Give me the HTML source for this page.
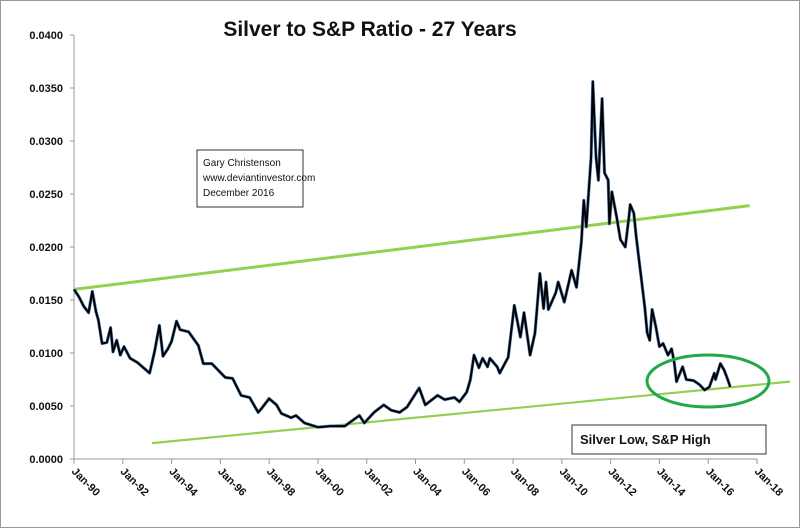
<!DOCTYPE html>
<html><head><meta charset="utf-8"><style>
html,body{margin:0;padding:0;background:#fff}
svg{display:block;font-family:"Liberation Sans",sans-serif}
</style></head><body>
<svg width="800" height="528" viewBox="0 0 800 528" id="c">
<rect x="0.5" y="0.5" width="799" height="527" fill="#fff" stroke="#999"/>
<text x="370" y="36" text-anchor="middle" font-size="21" font-weight="bold" fill="#111">Silver to S&amp;P Ratio - 27 Years</text>
<g id="axes"></g>
<g id="marks"></g>
<rect x="197" y="150" width="106" height="57" fill="#fff" stroke="#333"/>
<text font-size="10" fill="#111"><tspan x="203" y="166">Gary Christenson</tspan><tspan x="203" y="181">www.deviantinvestor.com</tspan><tspan x="203" y="196">December 2016</tspan></text>
<rect x="572" y="425" width="194" height="29" fill="#fff" stroke="#333"/>
<text x="580" y="444" font-size="13" font-weight="bold" fill="#111">Silver Low, S&amp;P High</text>
</svg>
<script>
const years=[1990.0,1990.2,1990.4,1990.6,1990.75,1990.9,1991.0,1991.15,1991.35,1991.5,1991.6,1991.75,1991.9,1992.05,1992.3,1992.6,1993.1,1993.3,1993.5,1993.65,1993.85,1994.0,1994.2,1994.35,1994.7,1995.1,1995.3,1995.65,1996.2,1996.5,1996.85,1997.2,1997.55,1997.7,1998.0,1998.3,1998.5,1998.9,1999.1,1999.45,2000.0,2000.5,2001.1,2001.7,2001.9,2002.3,2002.7,2003.0,2003.35,2003.65,2004.15,2004.4,2004.9,2005.2,2005.6,2005.8,2006.1,2006.25,2006.4,2006.6,2006.75,2006.95,2007.05,2007.35,2007.45,2007.8,2008.05,2008.3,2008.45,2008.7,2008.9,2009.1,2009.25,2009.35,2009.45,2009.75,2009.85,2010.1,2010.4,2010.6,2010.8,2010.9,2011.0,2011.2,2011.27,2011.4,2011.5,2011.65,2011.75,2011.9,2011.95,2012.05,2012.25,2012.4,2012.6,2012.75,2012.8,2012.95,2013.05,2013.2,2013.4,2013.5,2013.6,2013.7,2013.85,2014.0,2014.15,2014.35,2014.5,2014.6,2014.7,2014.95,2015.1,2015.4,2015.65,2015.85,2016.05,2016.25,2016.3,2016.5,2016.65,2016.8,2016.9];
const ratio=[0.0160,0.0153,0.0144,0.0138,0.0158,0.0139,0.0131,0.0109,0.0110,0.0124,0.0101,0.0112,0.0098,0.0106,0.0095,0.0091,0.0081,0.0101,0.0126,0.0097,0.0104,0.0111,0.0130,0.0122,0.0120,0.0107,0.0090,0.0090,0.0077,0.0076,0.0060,0.0058,0.0044,0.0048,0.0057,0.0051,0.0043,0.0039,0.0041,0.0034,0.0030,0.0031,0.0031,0.0041,0.0034,0.0044,0.0051,0.0046,0.0044,0.0049,0.0067,0.0051,0.0060,0.0056,0.0058,0.0054,0.0063,0.0075,0.0098,0.0086,0.0095,0.0087,0.0095,0.0087,0.0081,0.0096,0.0145,0.0115,0.0138,0.0098,0.0119,0.0175,0.0142,0.0167,0.0141,0.0157,0.0167,0.0148,0.0178,0.0162,0.0205,0.0244,0.0219,0.0285,0.0356,0.0285,0.0263,0.0340,0.0270,0.0263,0.0222,0.0252,0.0228,0.0207,0.0200,0.0228,0.0240,0.0232,0.0209,0.0181,0.0143,0.0119,0.0112,0.0141,0.0125,0.0106,0.0109,0.0098,0.0104,0.0092,0.0073,0.0087,0.0075,0.0074,0.0070,0.0065,0.0068,0.0081,0.0075,0.0090,0.0084,0.0075,0.0068];
const yTicks=[0,0.005,0.01,0.015,0.02,0.025,0.03,0.035,0.04];
const yTickLabels=["0.0000","0.0050","0.0100","0.0150","0.0200","0.0250","0.0300","0.0350","0.0400"];
const xTicks=[1990,1992,1994,1996,1998,2000,2002,2004,2006,2008,2010,2012,2014,2016,2018];
const xTickLabels=["Jan-90","Jan-92","Jan-94","Jan-96","Jan-98","Jan-00","Jan-02","Jan-04","Jan-06","Jan-08","Jan-10","Jan-12","Jan-14","Jan-16","Jan-18"];
const upperTrend=[[1990,0.0160],[2017.7,0.0239]];
const lowerTrend=[[1993.2,0.0015],[2019.35,0.0073]];
const X0=74,X1=757,Y0=459,Y1=35;
const xs=v=>X0+(v-1990)/28*(X1-X0);
const ys=v=>Y0-v/0.04*(Y0-Y1);
const NS="http://www.w3.org/2000/svg";
function mk(t,a,p){const e=document.createElementNS(NS,t);for(const k in a)e.setAttribute(k,a[k]);p.appendChild(e);return e;}
const ax=document.getElementById('axes'),mg=document.getElementById('marks');
let e=mk('line',{x1:X0,y1:Y1,x2:X0,y2:Y0,stroke:'#999'},ax);

e=mk('line',{x1:X0,y1:Y0,x2:X1,y2:Y0,stroke:'#999'},ax);

yTicks.forEach((v,i)=>{
 const t=mk('line',{x1:X0-4,x2:X0,y1:ys(v),y2:ys(v),stroke:'#999'},ax);
 
 const l=mk('text',{x:63,y:ys(v)+4,'text-anchor':'end','font-size':'11','font-weight':'bold',fill:'#111'},ax);
 l.textContent=yTickLabels[i];
 
});
xTicks.forEach((v,i)=>{
 const x=xs(v);
 const t=mk('line',{x1:x,x2:x,y1:Y0,y2:Y0+5,stroke:'#999'},ax);
 
 const l=mk('text',{x:x-3,y:Y0+13,'font-size':'11','font-weight':'bold',fill:'#111',transform:`rotate(45 ${x-3} ${Y0+13})`},ax);
 l.textContent=xTickLabels[i];
 
});
function trend(p,w,n){const l=mk('line',{x1:xs(p[0][0]),y1:ys(p[0][1]),x2:xs(p[1][0]),y2:ys(p[1][1]),stroke:'#92d050','stroke-width':w},mg);
 }
trend(upperTrend,3,'upper-trendline');
trend(lowerTrend,2.2,'lower-trendline');
const pts=years.map((y,i)=>xs(y).toFixed(1)+','+ys(ratio[i]).toFixed(1)).join(' ');
e=mk('polyline',{points:pts,fill:'none',stroke:'#5b84b8','stroke-width':3.2,'stroke-linejoin':'round'},mg);

e=mk('polyline',{points:pts,fill:'none',stroke:'#000','stroke-width':2,'stroke-linejoin':'round'},mg);

e=mk('ellipse',{cx:708,cy:381,rx:61,ry:26,fill:'none',stroke:'#22a846','stroke-width':3},mg);

</script>
</body></html>
